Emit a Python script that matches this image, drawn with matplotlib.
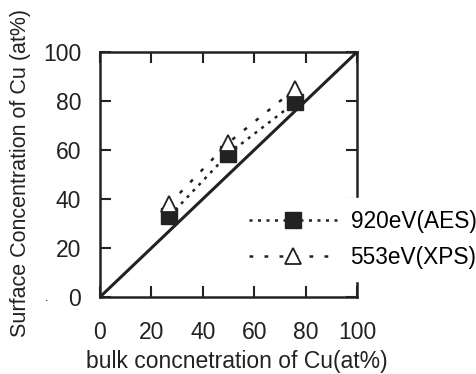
import matplotlib
matplotlib.use("Agg")
import matplotlib.pyplot as plt

plt.rcParams["font.family"] = ["Liberation Sans", "DejaVu Sans"]

# data
bulk = [27, 50, 76]
aes_920 = [33, 58.5, 79.5]
xps_553 = [38, 63, 85]
ideal_x = [0, 100]
ideal_y = [0, 100]
ticks = [0, 20, 40, 60, 80, 100]

ink = "#222222"

fig = plt.figure(figsize=(4.77, 3.74), dpi=100)
ax = fig.add_axes([100 / 477, 1 - 297 / 374, 257 / 477, 245 / 374])

ax.plot(ideal_x, ideal_y, color=ink, lw=2.2, solid_capstyle="round", zorder=2)
ax.plot(bulk, aes_920, color=ink, lw=1.8, dashes=(1.2, 2.2),
        marker="s", ms=11, mfc=ink, mec=ink,
        label="920eV(AES)", zorder=3)
ax.plot(bulk, xps_553, color=ink, lw=1.8, dashes=(1.5, 4.5),
        marker="^", ms=12, mfc="white", mec=ink, mew=1.3,
        label="553eV(XPS)", zorder=4)

ax.set_xlim(0, 100)
ax.set_ylim(0, 100)
ax.set_xticks(ticks)
ax.set_yticks(ticks)
ax.tick_params(direction="in", length=8, width=1.5, top=True, right=True,
               labelsize=16.5, colors=ink)
ax.tick_params(axis="x", pad=17)
ax.tick_params(axis="y", pad=13.5)
for s in ax.spines.values():
    s.set_linewidth(1.8)
    s.set_color(ink)

ax.set_xlabel("bulk concnetration of Cu(at%)", fontsize=16.5, color=ink, va="center")
ax.set_ylabel("Surface Concentration of Cu (at%)", fontsize=15.5, color=ink, va="center")
ax.xaxis.set_label_coords(0.533, -0.265)
ax.yaxis.set_label_coords(-0.311, 0.506)
fig.text(47 / 477, 1 - 298 / 374, ".", fontsize=9, ha="center", va="center")

leg = ax.legend(loc="center left", bbox_to_anchor=(0.53, 0.235), frameon=True,
                fontsize=16.3, handlelength=3.9, handletextpad=0.6,
                labelspacing=0.55, borderpad=0.55, borderaxespad=0)
leg.get_frame().set_edgecolor("white")
leg.get_frame().set_facecolor("white")
leg.get_frame().set_alpha(1)
leg.set_zorder(10)

fig.savefig("out.png", dpi=100)
